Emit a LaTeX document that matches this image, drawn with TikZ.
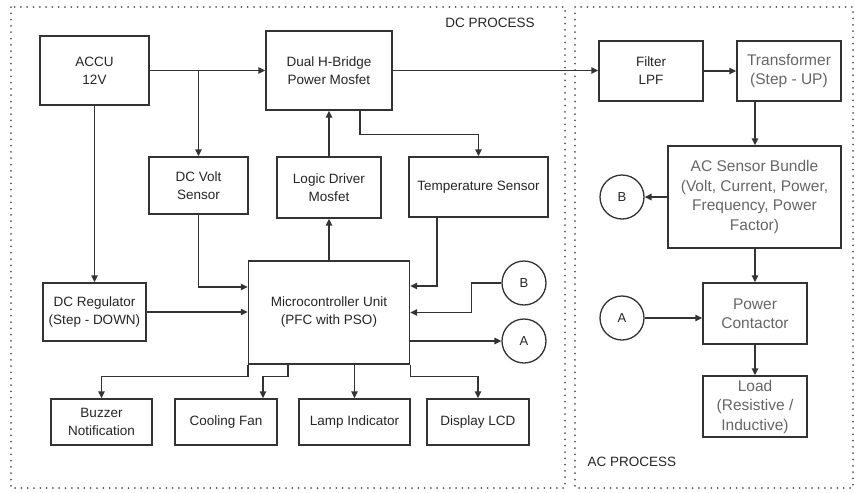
\documentclass[tikz,border=0pt]{standalone}
\usepackage{fontspec}
\setmainfont{Liberation Sans}
\usetikzlibrary{arrows.meta}
\definecolor{ink}{HTML}{262626}
\definecolor{soft}{HTML}{666666}
\definecolor{wire}{HTML}{333333}
\tikzset{
  box/.style={draw=wire, line width=1.4pt, fill=white, align=center, text=ink,
    font=\fontsize{13.5}{18}\selectfont, inner sep=0pt},
  gbox/.style={box, text=soft, font=\fontsize{15.5}{19.5}\selectfont},
  conn/.style={draw=wire, line width=1.3pt, circle, minimum size=44pt, inner sep=0pt,
    text=ink, font=\fontsize{13}{15}\selectfont},
  arr/.style={draw=wire, line width=1.4pt, -{Triangle[length=7pt,width=6.5pt]}},
  frame/.style={draw=black!65, line width=2pt, line cap=round, dash pattern=on 0pt off 6.3pt},
  lbl/.style={text=ink, font=\fontsize{13.5}{16}\selectfont, inner sep=0pt}
}
\begin{document}
\begin{tikzpicture}[x=1pt,y=-1pt]
\useasboundingbox (0,0) rectangle (855,493);
\fill[white] (0,0) rectangle (855,493);
% frames
\draw[frame] (11,7) rectangle (565,488);
\draw[frame] (575,7) rectangle (853,488);
\node[lbl] (dclab) at (490,23) {DC PROCESS};
\node[lbl] (aclab) at (632,462) {AC PROCESS};
% boxes
\node[box, minimum width=109pt, minimum height=69pt] (accu) at (94.5,70.5) {ACCU\\12V};
\node[box, minimum width=126pt, minimum height=79pt] (hb) at (329,70.5) {Dual H-Bridge\\Power Mosfet};
\node[box, minimum width=99pt, minimum height=57pt] (dcv) at (198.5,185.5) {DC Volt\\Sensor};
\node[box, minimum width=104pt, minimum height=61pt] (ldm) at (329,187.5) {Logic Driver\\Mosfet};
\node[box, minimum width=139pt, minimum height=60pt] (temp) at (478.5,187) {Temperature Sensor};
\node[box, minimum width=104pt, minimum height=60pt] (lpf) at (651,71) {Filter\\LPF};
\node[gbox, minimum width=104pt, minimum height=60pt] (tr) at (789,71) {Transformer\\(Step - UP)};
\node[gbox, minimum width=173pt, minimum height=102pt] (acs) at (754.5,197) {AC Sensor Bundle\\(Volt, Current, Power,\\Frequency, Power\\Factor)};
\node[gbox, minimum width=104pt, minimum height=61pt] (pc) at (755,313.5) {Power\\Contactor};
\node[gbox, minimum width=104pt, minimum height=61pt] (load) at (755,406.5) {Load\\(Resistive /\\Inductive)};
\node[box, minimum width=161pt, minimum height=103pt] (mcu) at (329,312.5) {Microcontroller Unit\\(PFC with PSO)};
\node[box, minimum width=103pt, minimum height=58pt] (dcr) at (94.5,312) {DC Regulator\\(Step - DOWN)};
\node[box, minimum width=101pt, minimum height=46pt] (buz) at (101.5,422) {Buzzer\\Notification};
\node[box, minimum width=102pt, minimum height=46pt] (fan) at (226,422) {Cooling Fan};
\node[box, minimum width=111pt, minimum height=46pt] (lamp) at (354.5,422) {Lamp Indicator};
\node[box, minimum width=102pt, minimum height=46pt] (lcd) at (478,422) {Display LCD};
% connectors (circles)
\node[conn] (bdc) at (524,283) {B};
\node[conn] (adc) at (524,341) {A};
\node[conn] (bac) at (622,197) {B};
\node[conn] (aac) at (622,318) {A};
% arrows
\draw[arr] (accu.east) -- (hb.west);
\draw[arr] (accu.east -| dcv.north) -- (dcv.north);
\draw[arr] (accu.south) -- (dcr.north);
\draw[arr] (hb.east) -- (hb.east -| lpf.west);
\draw[arr] (lpf.east) -- (tr.west);
\draw[arr] ([xshift=31pt]hb.south) -- ++(0,24) -| (temp.north);
\draw[arr] (ldm.north) -- (ldm.north |- hb.south);
\draw[arr] (mcu.north) -- (ldm.south);
\draw[arr] (dcv.south) |- ([yshift=25.5pt]mcu.west);
\draw[arr] (dcr.east) -- (dcr.east -| mcu.west);
\draw[arr] ([xshift=-41.5pt]temp.south) |- ([yshift=26.5pt]mcu.east);
\draw[arr] (bdc.west) -- ++(-30,0) |- (mcu.east);
\draw[arr] (mcu.east |- adc.west) -- (adc.west);
\draw[arr] (mcu.south west) -- ++(0,12) -| (buz.north);
\draw[arr] ([xshift=-41pt]mcu.south) -- ++(0,12) -| ([xshift=37pt]fan.north);
\draw[arr] (mcu.south -| lamp.north) -- (lamp.north);
\draw[arr] (mcu.south east) -- ++(0,12) -| (lcd.north);
\draw[arr] ([xshift=-34pt]tr.south) -- ([xshift=-34pt]tr.south |- acs.north);
\draw[arr] (acs.west) -- (bac.east);
\draw[arr] (acs.south -| pc.north) -- (pc.north);
\draw[arr] (pc.south) -- (load.north);
\draw[arr] (aac.east) -- (aac.east -| pc.west);
\end{tikzpicture}
\end{document}
